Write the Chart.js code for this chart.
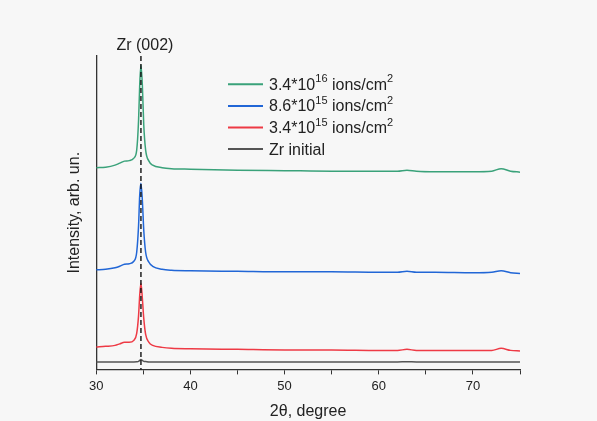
<!DOCTYPE html>
<html>
<head>
<meta charset="utf-8">
<script src="https://cdn.jsdelivr.net/npm/chart.js@4"></script>
<style>
  html, body { margin: 0; padding: 0; background: #f7f7f7; }
  #wrap { width: 597px; height: 421px; }
</style>
</head>
<body>
<div id="wrap"><canvas id="myChart" width="597" height="421"></canvas></div>
<script>
// 2theta positions (degree)
var xValues = [30, 31, 32, 32.5, 33, 33.5, 34, 34.3, 34.5, 34.62, 34.75, 34.9, 35.05, 35.25, 35.6, 36, 37, 38, 40, 45, 50, 55, 60, 62, 63, 64, 66, 70, 72, 73, 74, 75];

// intensity, arb. un. (curves are offset)
var yHigh = [201.5, 202, 204, 206, 208, 208.5, 211, 219, 249, 284, 304, 284, 244, 219, 208, 204, 201.5, 200.5, 200, 199, 198.5, 198, 198, 198, 199, 198, 197.5, 197.5, 198, 200.5, 198, 197];
var yMid = [99.5, 100, 101.5, 103, 105, 105.5, 108, 117, 144, 174, 186, 169, 139, 117, 107, 103, 100, 99, 98.5, 98, 97.5, 97.5, 97, 97, 98, 97, 97, 96.5, 97, 98.5, 96.5, 95.7];
var yLow = [22.3, 23, 24, 25.5, 27, 27, 29, 36, 54, 74, 86, 71, 51, 35, 27, 24, 22, 21, 20.5, 20, 19.5, 19.5, 19, 19, 20, 19, 19, 19, 19, 21, 19, 18.5];
var yInitial = [7.5, 7.5, 7.5, 7.5, 7.5, 7.5, 7.5, 7.6, 8, 9, 10, 9, 8, 7.8, 7.5, 7.5, 7.5, 7.5, 7.5, 7.5, 7.5, 7.5, 7.5, 7.5, 7.6, 7.5, 7.5, 7.4, 7.4, 7.5, 7.4, 7.3];

var seriesNames = ["3.4*10^16 ions/cm^2", "8.6*10^15 ions/cm^2", "3.4*10^15 ions/cm^2", "Zr initial"];
var seriesColors = ["#3aa27a", "#2166d6", "#ee3a45", "#555555"];
var peakPos = 34.75;
var peakLabel = "Zr (002)";

function pts(ys) {
    return xValues.map(function (x, i) { return { x: x, y: ys[i] }; });
}

// dashed line at the (002) reflection and its label
var peakMarker = {
    id: "peakMarker",
    afterDatasetsDraw: function (chart) {
        var ctx = chart.ctx, a = chart.chartArea;
        var px = chart.scales.x.getPixelForValue(peakPos);
        ctx.save();
        ctx.strokeStyle = "#111";
        ctx.lineWidth = 1.4;
        ctx.setLineDash([5, 3]);
        ctx.beginPath();
        ctx.moveTo(px, a.top);
        ctx.lineTo(px, a.bottom);
        ctx.stroke();
        ctx.setLineDash([]);
        ctx.fillStyle = "#222";
        ctx.font = "16px 'Liberation Sans', Arial, sans-serif";
        ctx.textAlign = "center";
        ctx.textBaseline = "middle";
        ctx.fillText(peakLabel, px + 4, a.top - 10);
        ctx.restore();
    }
};

// legend with superscripts ("^" marks the raised part)
var supLegend = {
    id: "supLegend",
    afterDraw: function (chart) {
        var ctx = chart.ctx;
        var x0 = 228, y0 = 84.3, step = 21.6;
        ctx.save();
        seriesNames.forEach(function (name, i) {
            var y = y0 + i * step;
            ctx.strokeStyle = seriesColors[i];
            ctx.lineWidth = 2;
            ctx.beginPath();
            ctx.moveTo(x0, y);
            ctx.lineTo(x0 + 35, y);
            ctx.stroke();
            var parts = name.split("^");
            var tx = x0 + 41;
            ctx.fillStyle = "#222";
            ctx.textBaseline = "middle";
            ctx.textAlign = "left";
            parts.forEach(function (p, k) {
                if (k === 0) {
                    ctx.font = "16px 'Liberation Sans', Arial, sans-serif";
                    ctx.fillText(p, tx, y + 1);
                    tx += ctx.measureText(p).width;
                } else {
                    var m = p.match(/^(\d+)(.*)$/);
                    ctx.font = "11px 'Liberation Sans', Arial, sans-serif";
                    ctx.fillText(m[1], tx, y - 5);
                    tx += ctx.measureText(m[1]).width;
                    ctx.font = "16px 'Liberation Sans', Arial, sans-serif";
                    ctx.fillText(m[2], tx, y + 1);
                    tx += ctx.measureText(m[2]).width;
                }
            });
        });
        ctx.restore();
    }
};

new Chart("myChart", {
    type: "line",
    data: {
        datasets: [
            { label: seriesNames[0], data: pts(yHigh), borderColor: seriesColors[0] },
            { label: seriesNames[1], data: pts(yMid), borderColor: seriesColors[1] },
            { label: seriesNames[2], data: pts(yLow), borderColor: seriesColors[2] },
            { label: seriesNames[3], data: pts(yInitial), borderColor: seriesColors[3] }
        ]
    },
    options: {
        responsive: false,
        animation: false,
        layout: { padding: { left: 65, right: 77, top: 56, bottom: 1 } },
        elements: {
            point: { radius: 0 },
            line: { borderWidth: 1.5, cubicInterpolationMode: "monotone", fill: false }
        },
        plugins: { legend: { display: false }, tooltip: { enabled: false } },
        scales: {
            x: {
                type: "linear",
                min: 30,
                max: 75,
                grid: { drawOnChartArea: false, drawTicks: true, tickLength: 5, tickColor: "#333" },
                border: { color: "#333", width: 1.3 },
                ticks: {
                    stepSize: 5,
                    autoSkip: false,
                    maxRotation: 0,
                    color: "#222",
                    padding: 4,
                    font: { family: "'Liberation Sans', Arial, sans-serif", size: 13 },
                    callback: function (v) { return v % 10 === 0 ? v : ""; }
                },
                title: {
                    display: true,
                    text: "2θ, degree",
                    color: "#222",
                    padding: { top: 6, bottom: 0 },
                    font: { family: "'Liberation Sans', Arial, sans-serif", size: 16, lineHeight: 1 }
                }
            },
            y: {
                min: 0,
                max: 313,
                grid: { drawOnChartArea: false, drawTicks: false },
                border: { color: "#333", width: 1.3 },
                ticks: { display: false },
                title: {
                    display: true,
                    text: "Intensity, arb. un.",
                    color: "#222",
                    padding: { top: 0, bottom: 12 },
                    font: { family: "'Liberation Sans', Arial, sans-serif", size: 16 }
                }
            }
        }
    },
    plugins: [peakMarker, supLegend]
});
</script>
</body>
</html>
